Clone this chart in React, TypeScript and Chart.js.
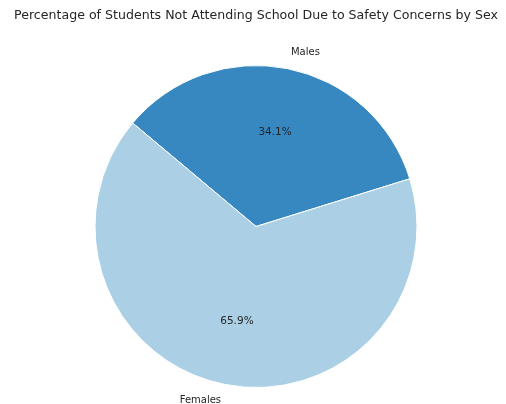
import React, { useEffect, useRef } from "react";
import { Chart, registerables } from "chart.js";

Chart.register(...registerables);

const categories: string[] = ["Males", "Females"];
const shares: number[] = [34.1, 65.9];
const colors: string[] = ["#3787c0", "#abd0e6"];
const titleText = "Percentage of Students Not Attending School Due to Safety Concerns by Sex";

const FONT = "'DejaVu Sans', sans-serif";

const labelPlugin = {
  id: "pieLabels",
  afterDraw(chart: any) {
    const ctx = chart.ctx as CanvasRenderingContext2D;
    const meta = chart.getDatasetMeta(0);
    const total = shares.reduce((a, b) => a + b, 0);
    ctx.save();
    // title
    ctx.fillStyle = "#262626";
    ctx.font = `12.6px ${FONT}`;
    ctx.textAlign = "center";
    ctx.textBaseline = "middle";
    ctx.fillText(titleText, 256, 16);
    meta.data.forEach((arc: any, i: number) => {
      const { x, y, startAngle, endAngle, outerRadius } = arc.getProps(
        ["x", "y", "startAngle", "endAngle", "outerRadius"],
        true
      );
      const mid = (startAngle + endAngle) / 2;
      const cx = Math.cos(mid);
      const cy = Math.sin(mid);
      ctx.font = `10px ${FONT}`;
      ctx.textBaseline = "middle";
      const lx = x + cx * outerRadius * 1.1;
      const ly = y + cy * outerRadius * 1.1;
      ctx.textAlign = cx >= 0 ? "left" : "right";
      ctx.fillStyle = "#262626";
      ctx.fillText(categories[i], lx, ly);
      ctx.font = `10.5px ${FONT}`;
      ctx.textAlign = "center";
      const px = x + cx * outerRadius * 0.6;
      const py = y + cy * outerRadius * 0.6;
      ctx.fillText(((shares[i] / total) * 100).toFixed(1) + "%", px, py);
    });
    ctx.restore();
  },
};

export default function App() {
  const ref = useRef<HTMLCanvasElement>(null);
  useEffect(() => {
    if (!ref.current) return;
    const chart = new Chart(ref.current, {
      type: "pie",
      data: {
        labels: categories,
        datasets: [
          {
            data: shares,
            backgroundColor: colors,
            borderColor: "#ffffff",
            borderWidth: 1,
          },
        ],
      },
      options: {
        responsive: false,
        animation: false,
        rotation: -50,
        events: [],
        layout: { padding: { left: 94, right: 88, top: 65, bottom: 16 } },
        plugins: {
          legend: { display: false },
          tooltip: { enabled: false },
          title: { display: false },
        },
      },
      plugins: [labelPlugin],
    });
    return () => chart.destroy();
  }, []);
  return (
    <div style={{ position: "fixed", left: 0, top: 0, width: 506, height: 404, background: "#fff" }}>
      <canvas ref={ref} width={506} height={404} style={{ width: 506, height: 404, display: "block" }} />
    </div>
  );
}
